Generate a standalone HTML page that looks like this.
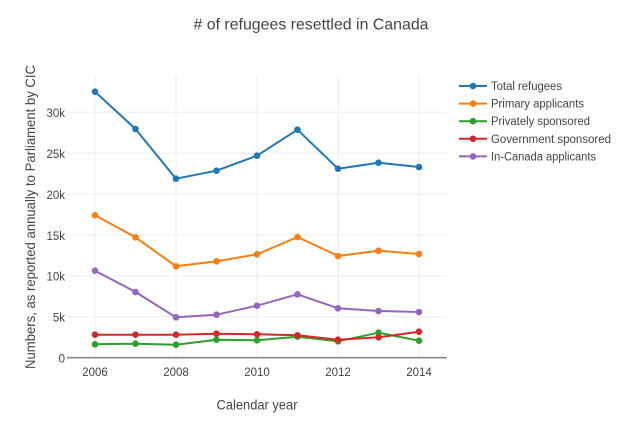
<!DOCTYPE html>
<html>
<head>
<meta charset="utf-8">
<style>
  html, body { margin: 0; padding: 0; background: #fff; }
  svg { display: block; }
  text { font-family: "Liberation Sans", "DejaVu Sans", sans-serif; fill: #444; }
</style>
</head>
<body>
<svg width="630" height="426" viewBox="0 0 630 426" xmlns="http://www.w3.org/2000/svg">
  <rect x="0" y="0" width="630" height="426" fill="#fff"/>

  <!-- title -->
  <text x="311" y="29.5" font-size="16" text-anchor="middle" textLength="235" lengthAdjust="spacingAndGlyphs"># of refugees resettled in Canada</text>

  <!-- gridlines -->
  <g stroke="#eeeeee" stroke-width="1" fill="none">
    <line x1="95" y1="75" x2="95" y2="358"/>
    <line x1="176" y1="75" x2="176" y2="358"/>
    <line x1="257" y1="75" x2="257" y2="358"/>
    <line x1="338" y1="75" x2="338" y2="358"/>
    <line x1="419" y1="75" x2="419" y2="358"/>
    <line x1="67" y1="316.8" x2="447" y2="316.8"/>
    <line x1="67" y1="275.9" x2="447" y2="275.9"/>
    <line x1="67" y1="235" x2="447" y2="235"/>
    <line x1="67" y1="194.1" x2="447" y2="194.1"/>
    <line x1="67" y1="153.2" x2="447" y2="153.2"/>
    <line x1="67" y1="112.3" x2="447" y2="112.3"/>
  </g>

  <!-- zero line -->
  <line x1="67" y1="357.7" x2="447" y2="357.7" stroke="#888" stroke-width="1.6"/>

  <!-- y tick labels -->
  <g font-size="11.5" text-anchor="end">
    <text x="65" y="362.5">0</text>
    <text x="65" y="321.6">5k</text>
    <text x="65" y="280.7">10k</text>
    <text x="65" y="239.8">15k</text>
    <text x="65" y="198.9">20k</text>
    <text x="65" y="158">25k</text>
    <text x="65" y="117.1">30k</text>
  </g>

  <!-- x tick labels -->
  <g font-size="11.5" text-anchor="middle">
    <text x="95" y="376">2006</text>
    <text x="176" y="376">2008</text>
    <text x="257" y="376">2010</text>
    <text x="338" y="376">2012</text>
    <text x="419" y="376">2014</text>
  </g>

  <!-- axis titles -->
  <text x="257" y="409.3" font-size="14" text-anchor="middle" textLength="81" lengthAdjust="spacingAndGlyphs">Calendar year</text>
  <text transform="translate(35,217) rotate(-90)" x="0" y="0" font-size="14" text-anchor="middle" textLength="304" lengthAdjust="spacingAndGlyphs">Numbers, as reported annually to Parliament by CIC</text>

  <!-- Total refugees -->
  <g stroke="#1f77b4" fill="#1f77b4">
    <polyline fill="none" stroke-width="2" stroke-linejoin="round" points="95,91.7 135.5,129 176,178.7 216.5,170.7 257,155.7 297.5,129.7 338,168.7 378.5,162.7 419,167"/>
    <g stroke="none">
      <circle cx="95" cy="91.7" r="3.3"/><circle cx="135.5" cy="129" r="3.3"/><circle cx="176" cy="178.7" r="3.3"/>
      <circle cx="216.5" cy="170.7" r="3.3"/><circle cx="257" cy="155.7" r="3.3"/><circle cx="297.5" cy="129.7" r="3.3"/>
      <circle cx="338" cy="168.7" r="3.3"/><circle cx="378.5" cy="162.7" r="3.3"/><circle cx="419" cy="167" r="3.3"/>
    </g>
  </g>

  <!-- Primary applicants -->
  <g stroke="#ff7f0e" fill="#ff7f0e">
    <polyline fill="none" stroke-width="2" stroke-linejoin="round" points="95,215.3 135.5,237.3 176,266.3 216.5,261.3 257,254.3 297.5,237 338,256 378.5,250.7 419,254"/>
    <g stroke="none">
      <circle cx="95" cy="215.3" r="3.3"/><circle cx="135.5" cy="237.3" r="3.3"/><circle cx="176" cy="266.3" r="3.3"/>
      <circle cx="216.5" cy="261.3" r="3.3"/><circle cx="257" cy="254.3" r="3.3"/><circle cx="297.5" cy="237" r="3.3"/>
      <circle cx="338" cy="256" r="3.3"/><circle cx="378.5" cy="250.7" r="3.3"/><circle cx="419" cy="254" r="3.3"/>
    </g>
  </g>

  <!-- Privately sponsored -->
  <g stroke="#2ca02c" fill="#2ca02c">
    <polyline fill="none" stroke-width="2" stroke-linejoin="round" points="95,344.3 135.5,343.7 176,344.7 216.5,339.7 257,340.3 297.5,336.7 338,341.3 378.5,332.7 419,340.7"/>
    <g stroke="none">
      <circle cx="95" cy="344.3" r="3.3"/><circle cx="135.5" cy="343.7" r="3.3"/><circle cx="176" cy="344.7" r="3.3"/>
      <circle cx="216.5" cy="339.7" r="3.3"/><circle cx="257" cy="340.3" r="3.3"/><circle cx="297.5" cy="336.7" r="3.3"/>
      <circle cx="338" cy="341.3" r="3.3"/><circle cx="378.5" cy="332.7" r="3.3"/><circle cx="419" cy="340.7" r="3.3"/>
    </g>
  </g>

  <!-- Government sponsored -->
  <g stroke="#d62728" fill="#d62728">
    <polyline fill="none" stroke-width="2" stroke-linejoin="round" points="95,334.7 135.5,334.7 176,334.7 216.5,333.7 257,334.3 297.5,335.3 338,339.7 378.5,337.3 419,331.7"/>
    <g stroke="none">
      <circle cx="95" cy="334.7" r="3.3"/><circle cx="135.5" cy="334.7" r="3.3"/><circle cx="176" cy="334.7" r="3.3"/>
      <circle cx="216.5" cy="333.7" r="3.3"/><circle cx="257" cy="334.3" r="3.3"/><circle cx="297.5" cy="335.3" r="3.3"/>
      <circle cx="338" cy="339.7" r="3.3"/><circle cx="378.5" cy="337.3" r="3.3"/><circle cx="419" cy="331.7" r="3.3"/>
    </g>
  </g>

  <!-- In-Canada applicants -->
  <g stroke="#9467bd" fill="#9467bd">
    <polyline fill="none" stroke-width="2" stroke-linejoin="round" points="95,270.7 135.5,292 176,317.3 216.5,314.7 257,305.7 297.5,294.3 338,308.3 378.5,311 419,312"/>
    <g stroke="none">
      <circle cx="95" cy="270.7" r="3.3"/><circle cx="135.5" cy="292" r="3.3"/><circle cx="176" cy="317.3" r="3.3"/>
      <circle cx="216.5" cy="314.7" r="3.3"/><circle cx="257" cy="305.7" r="3.3"/><circle cx="297.5" cy="294.3" r="3.3"/>
      <circle cx="338" cy="308.3" r="3.3"/><circle cx="378.5" cy="311" r="3.3"/><circle cx="419" cy="312" r="3.3"/>
    </g>
  </g>

  <!-- legend -->
  <g font-size="11.5">
    <line x1="459" y1="86" x2="487" y2="86" stroke="#1f77b4" stroke-width="2"/>
    <circle cx="473" cy="86" r="3.3" fill="#1f77b4"/>
    <text x="491" y="90" textLength="71" lengthAdjust="spacingAndGlyphs">Total refugees</text>

    <line x1="459" y1="103.6" x2="487" y2="103.6" stroke="#ff7f0e" stroke-width="2"/>
    <circle cx="473" cy="103.6" r="3.3" fill="#ff7f0e"/>
    <text x="491" y="107.6" textLength="93" lengthAdjust="spacingAndGlyphs">Primary applicants</text>

    <line x1="459" y1="121.2" x2="487" y2="121.2" stroke="#2ca02c" stroke-width="2"/>
    <circle cx="473" cy="121.2" r="3.3" fill="#2ca02c"/>
    <text x="491" y="125.2" textLength="99" lengthAdjust="spacingAndGlyphs">Privately sponsored</text>

    <line x1="459" y1="138.8" x2="487" y2="138.8" stroke="#d62728" stroke-width="2"/>
    <circle cx="473" cy="138.8" r="3.3" fill="#d62728"/>
    <text x="491" y="142.8" textLength="120" lengthAdjust="spacingAndGlyphs">Government sponsored</text>

    <line x1="459" y1="156.4" x2="487" y2="156.4" stroke="#9467bd" stroke-width="2"/>
    <circle cx="473" cy="156.4" r="3.3" fill="#9467bd"/>
    <text x="491" y="160.4" textLength="105" lengthAdjust="spacingAndGlyphs">In-Canada applicants</text>
  </g>
</svg>
</body>
</html>
